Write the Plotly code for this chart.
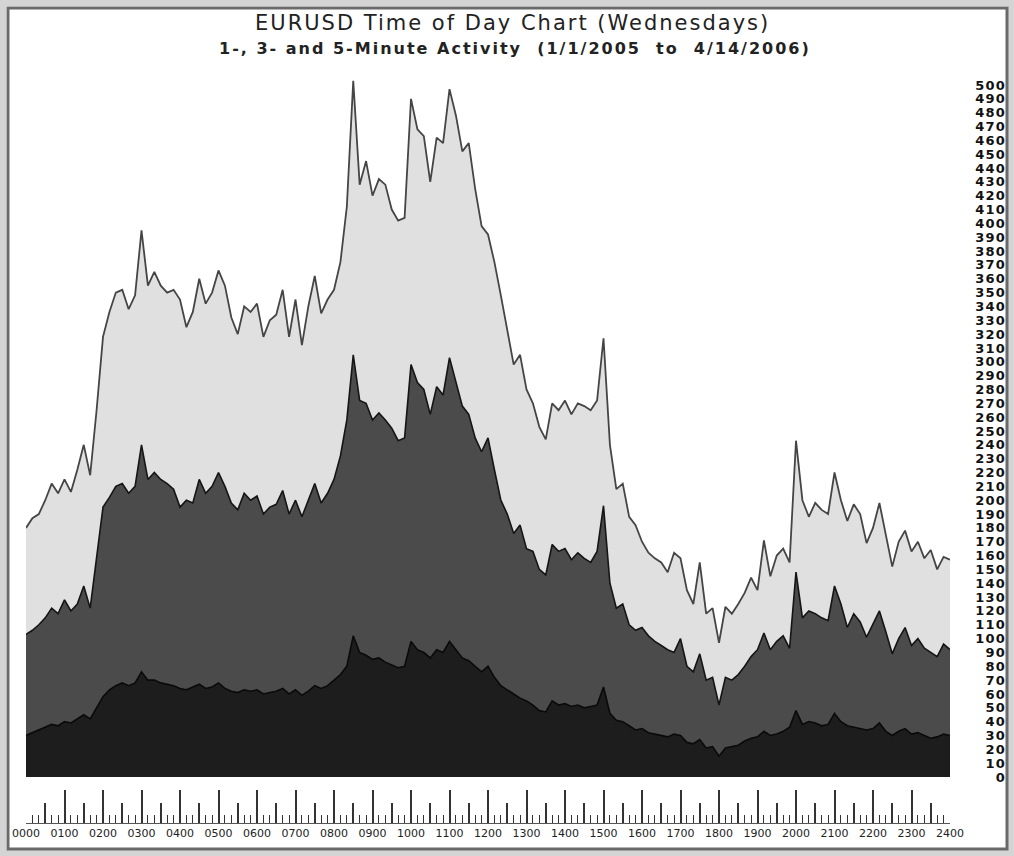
import plotly.graph_objects as go

# 10-minute sampling, 0000 .. 2400
five_minute = [
    180, 187, 190, 200, 212, 205,
    215, 206, 222, 240, 218, 265,
    318, 336, 350, 352, 338, 348,
    395, 355, 365, 355, 350, 352,
    345, 325, 336, 360, 342, 350,
    366, 355, 332, 320, 340, 336,
    342, 318, 330, 334, 352, 318,
    345, 312, 340, 362, 335, 345,
    352, 372, 412, 503, 428, 445,
    420, 432, 428, 410, 402, 404,
    490, 468, 463, 430, 462, 458,
    497, 478, 452, 458, 425, 398,
    392, 372, 348, 322, 298, 305,
    280, 270, 253, 244, 270, 265,
    272, 262, 270, 268, 265, 272,
    317, 240, 208, 212, 188, 182,
    170, 162, 158, 155, 148, 162,
    158, 135, 125, 155, 118, 122,
    97, 123, 118, 125, 133, 144,
    135, 171, 145, 160, 165, 155,
    243, 200, 188, 198, 193, 190,
    220, 200, 185, 197, 190, 169,
    180, 198, 175, 152, 170, 178,
    163, 170, 158, 164, 150, 159,
    157,
]

three_minute = [
    103, 106, 110, 115, 122, 118,
    128, 120, 125, 138, 122, 160,
    195, 202, 210, 212, 205, 210,
    240, 215, 220, 215, 212, 208,
    195, 200, 198, 215, 205, 210,
    220, 210, 198, 193, 205, 200,
    203, 190, 195, 197, 207, 190,
    200, 188, 200, 212, 198, 205,
    215, 232, 258, 305, 272, 270,
    258, 263, 258, 252, 243, 245,
    298, 285, 280, 262, 282, 276,
    303, 285, 268, 262, 245, 235,
    245, 222, 200, 190, 176, 182,
    165, 163, 150, 146, 168, 163,
    165, 157, 162, 158, 155, 163,
    196, 140, 122, 125, 110, 106,
    108, 102, 98, 95, 92, 90,
    100, 80, 76, 89, 70, 72,
    52, 72, 70, 74, 80, 87,
    92, 104, 92, 98, 102, 93,
    148, 115, 120, 118, 115, 113,
    138, 125, 108, 118, 112, 101,
    110, 120, 105, 89, 100, 108,
    95, 100, 93, 90, 87, 96,
    92,
]

one_minute = [
    30, 32, 34, 36, 38, 37,
    40, 39, 42, 45, 42, 50,
    58, 63, 66, 68, 66, 68,
    76, 70, 70, 68, 67, 66,
    64, 63, 65, 67, 64, 65,
    68, 64, 62, 61, 63, 62,
    63, 60, 61, 62, 64, 60,
    63, 59, 62, 66, 64, 66,
    70, 74, 80, 102, 90, 88,
    85, 86, 83, 81, 79, 80,
    98, 92, 90, 86, 92, 90,
    98, 92, 86, 84, 80, 76,
    80, 72, 66, 63, 60, 57,
    55, 52, 48, 47, 55, 52,
    53, 51, 52, 50, 51, 52,
    65, 46, 41, 40, 37, 34,
    35, 32, 31, 30, 29, 31,
    30, 25, 24, 27, 21, 22,
    15, 21, 22, 23, 26, 28,
    29, 33, 30, 31, 33, 36,
    48, 38, 40, 39, 37, 38,
    46, 40, 37, 36, 35, 34,
    35, 39, 33, 30, 33, 35,
    31, 32, 30, 28, 29, 31,
    30,
]

minutes = [10 * i for i in range(len(five_minute))]

hour_labels = ["0000", "0100", "0200", "0300", "0400", "0500", "0600", "0700",
               "0800", "0900", "1000", "1100", "1200", "1300", "1400", "1500",
               "1600", "1700", "1800", "1900", "2000", "2100", "2200", "2300", "2400"]
hour_positions = [60 * i for i in range(len(hour_labels))]
half_hour_positions = [60 * i + 30 for i in range(len(hour_labels) - 1)]
y_ticks = list(range(0, 501, 10))

title_text = "EURUSD Time of Day Chart (Wednesdays)"
subtitle_text = "1-, 3- and 5-Minute Activity&nbsp; (1/1/2005&nbsp; to&nbsp; 4/14/2006)"


def spaced(t, px):
    return '<span style="letter-spacing:%spx">%s</span>' % (px, t)


W, H = 1014, 856
fig = go.Figure()

series = [
    (five_minute, "#e0e0e0", "#454545", 1.8),
    (three_minute, "#4b4b4b", "#151515", 1.6),
    (one_minute, "#1d1d1d", "#0a0a0a", 1.6),
]
for vals, fillc, linec, lw in series:
    fig.add_trace(go.Scatter(
        x=minutes, y=vals, mode="lines",
        line=dict(color=linec, width=lw),
        fill="tozeroy", fillcolor=fillc,
        hoverinfo="skip", showlegend=False,
    ))

# helper trace for the half-hour tick axis
fig.add_trace(go.Scatter(x=[0, 1440], y=[None, None], xaxis="x2", yaxis="y",
                         mode="lines", hoverinfo="skip", showlegend=False))

x_dom = [26 / W, 950 / W]
ruler_pos = (H - 823) / H

fig.update_layout(
    width=W, height=H,
    margin=dict(l=0, r=0, t=0, b=0),
    paper_bgcolor="white", plot_bgcolor="white",
    xaxis=dict(
        domain=x_dom, range=[0, 1440], anchor="free", position=ruler_pos,
        automargin=False,
        showgrid=False, zeroline=False, showline=True, linecolor="#555", linewidth=1,
        ticks="inside", tickmode="array", tickvals=hour_positions, ticktext=hour_labels,
        ticklen=33, tickwidth=1.5, tickcolor="#333",
        tickfont=dict(family="DejaVu Sans", size=11, color="#222"),
        minor=dict(ticks="inside", tickmode="linear", tick0=0, dtick=10,
                   ticklen=8, tickwidth=1.3, tickcolor="#333", showgrid=False),
    ),
    xaxis2=dict(
        domain=x_dom, range=[0, 1440], overlaying="x", anchor="free", position=ruler_pos,
        automargin=False,
        showgrid=False, zeroline=False, showline=False,
        ticks="inside", tickmode="array", tickvals=half_hour_positions,
        ticklen=20, tickwidth=1.5, tickcolor="#333", showticklabels=False,
    ),
    yaxis=dict(
        domain=[(H - 777) / H, (H - 75.3) / H], range=[0, 507],
        side="left", anchor="free", position=1006 / W, automargin=False,
        showgrid=False, zeroline=False, showline=False, ticks="",
        tickmode="array", tickvals=y_ticks,
        ticktext=[spaced(v, 1.2) for v in y_ticks],
        tickfont=dict(family="DejaVu Sans", size=13, color="#111", weight="bold"),
    ),
    annotations=[
        dict(text=spaced(title_text, 2), x=512 / W, y=(H - 23) / H, xref="paper", yref="paper",
             showarrow=False, xanchor="center", yanchor="middle",
             font=dict(family="DejaVu Sans", size=21, color="#222")),
        dict(text="<b>" + spaced(subtitle_text, 2) + "</b>", x=515 / W, y=(H - 49) / H,
             xref="paper", yref="paper", showarrow=False, xanchor="center", yanchor="middle",
             font=dict(family="DejaVu Sans", size=16, color="#222")),
    ],
    shapes=[
        dict(type="rect", xref="paper", yref="paper", x0=0, y0=0, x1=1, y1=1,
             line=dict(color="#d4d4d4", width=12), fillcolor="rgba(0,0,0,0)", layer="above"),
        dict(type="rect", xref="paper", yref="paper",
             x0=8 / W, y0=1 - 8 / H, x1=1 - 7 / W, y1=7 / H,
             line=dict(color="#6a6a6a", width=3), fillcolor="rgba(0,0,0,0)", layer="above"),
    ],
)

fig.write_html(
    "out.html",
    config={"displayModeBar": False},
    post_script="document.body.style.margin='0';document.body.style.overflow='hidden';",
)
